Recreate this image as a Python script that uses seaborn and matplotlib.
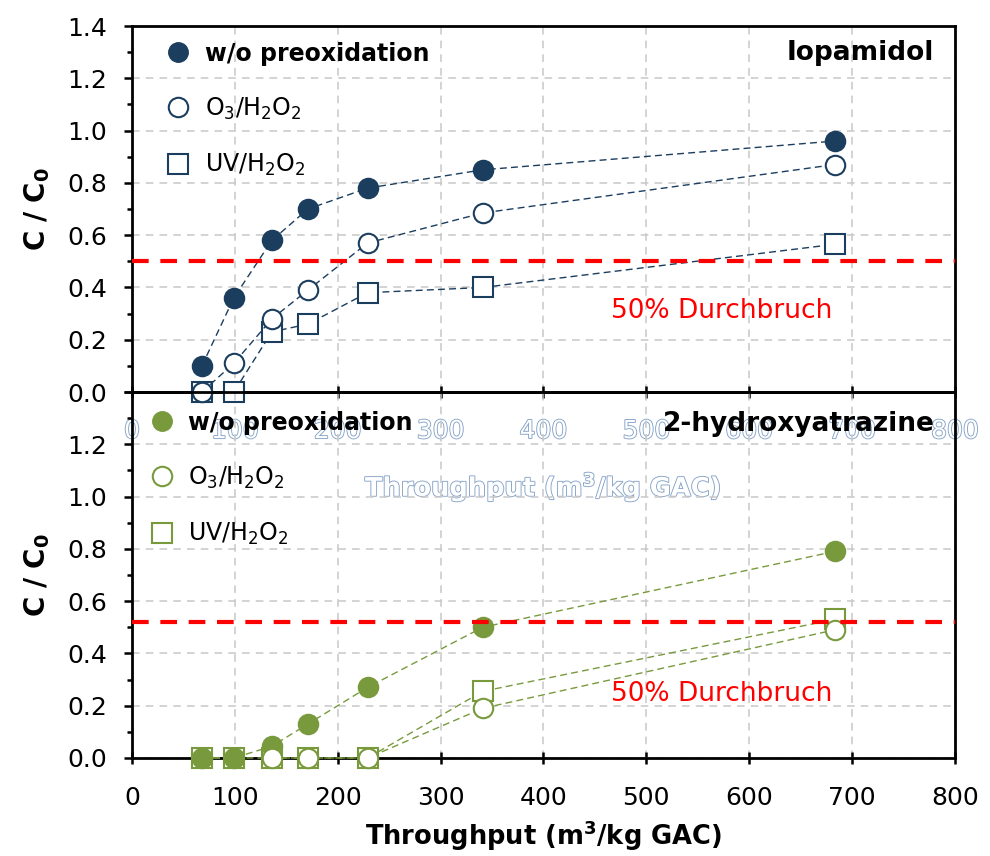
import matplotlib
matplotlib.use("Agg")
import matplotlib.pyplot as plt
import matplotlib.patheffects as pe
from matplotlib.lines import Line2D
import seaborn as sns
import numpy as np

# Daten
throughput = [68, 99, 136, 171, 229, 341, 683]
throughput_o3_hat = [136, 171, 229, 341, 683]

iop_ohne = [0.10, 0.36, 0.58, 0.70, 0.78, 0.85, 0.96]
iop_o3 = [0.00, 0.11, 0.28, 0.39, 0.57, 0.685, 0.87]
iop_uv = [0.00, 0.00, 0.23, 0.26, 0.38, 0.40, 0.565]

hat_ohne = [0.00, 0.00, 0.045, 0.13, 0.27, 0.50, 0.79]
hat_o3 = [0.00, 0.00, 0.00, 0.19, 0.49]
hat_uv = [0.00, 0.00, 0.00, 0.00, 0.00, 0.255, 0.53]

durchbruch_iop = 0.50
durchbruch_hat = 0.52

legend_labels = ["w/o preoxidation", "O$_3$/H$_2$O$_2$", "UV/H$_2$O$_2$"]
x_ticks = [0, 100, 200, 300, 400, 500, 600, 700, 800]
y_ticks = [0.0, 0.2, 0.4, 0.6, 0.8, 1.0, 1.2, 1.4]

navy = "#1b3d5e"
green = "#789a3d"

plt.rcParams["font.family"] = ["DejaVu Sans"]
plt.rcParams["axes.unicode_minus"] = False

fig = plt.figure(figsize=(9.9, 8.56), dpi=100)
ax1 = fig.add_axes([0.1333, 0.542, 0.8313, 0.4276])
ax2 = fig.add_axes([0.1333, 0.1145, 0.8313, 0.4276])
ax2.patch.set_alpha(0)


def panel(ax, series, color, title, title_y, grenze, text_y, legend_x, legend_y, legend_pad):
    for x, y, marker, face, z in series:
        sns.lineplot(x=x, y=y, ax=ax, sort=False, color=color, marker=marker,
                     markersize=14, markerfacecolor=face, markeredgecolor=color,
                     markeredgewidth=1.5, linewidth=1.0, linestyle=(0, (5, 3)),
                     clip_on=False, zorder=z)
    ax.axhline(grenze, color="red", linewidth=3, linestyle=(0, (4, 2.8)), zorder=6)
    ax.text(573, text_y, "50% Durchbruch", color="red", fontsize=19,
            ha="center", va="center")
    ax.text(780, title_y, title, fontsize=19, fontweight="bold", ha="right", va="center")

    ax.set_xlim(0, 800)
    ax.set_ylim(0, 1.4)
    ax.set_xticks(x_ticks)
    ax.set_yticks(y_ticks)
    ax.set_yticks(np.arange(0.1, 1.4, 0.2), minor=True)
    ax.grid(True, which="major", color="#c8c8c8", linestyle=(0, (5, 4)), linewidth=1.1)
    ax.set_axisbelow(True)
    for s in ax.spines.values():
        s.set_linewidth(2)
    ax.tick_params(axis="y", which="major", direction="out", length=6, width=1.8,
                   labelsize=18, pad=12)
    ax.tick_params(axis="y", which="minor", direction="out", length=3.5, width=1.8)
    ax.tick_params(axis="x", which="major", direction="inout", length=9, width=1.8,
                   labelsize=18, pad=16)
    ax.set_ylabel(r"$\mathbf{C\ /\ C_0}$", fontsize=20, labelpad=11)
    ax.set_xlabel(r"Throughput (m$^\mathbf{3}$/kg GAC)", fontsize=18.5,
                  fontweight="bold", labelpad=6)

    handles = [
        Line2D([], [], linestyle="none", marker="o", markersize=14,
               markerfacecolor=color, markeredgecolor=color),
        Line2D([], [], linestyle="none", marker="o", markersize=14,
               markerfacecolor="white", markeredgecolor=color, markeredgewidth=1.5),
        Line2D([], [], linestyle="none", marker="s", markersize=14,
               markerfacecolor="white", markeredgecolor=color, markeredgewidth=1.5),
    ]
    leg = ax.legend(handles, legend_labels, loc="upper left",
                    bbox_to_anchor=(legend_x, legend_y), frameon=False, fontsize=17,
                    handlelength=1.0, handletextpad=legend_pad, labelspacing=1.27,
                    borderpad=0, borderaxespad=0)
    leg.get_texts()[0].set_fontweight("bold")
    leg.set_zorder(7)


panel(ax1,
      [(throughput, iop_uv, "s", "white", 3),
       (throughput, iop_ohne, "o", navy, 4),
       (throughput, iop_o3, "o", "white", 5)],
      navy, "Iopamidol", 1.295, durchbruch_iop, 0.31, 0.041, 0.957, 0.65)

panel(ax2,
      [(throughput, hat_uv, "s", "white", 3),
       (throughput, hat_ohne, "o", green, 4),
       (throughput_o3_hat, hat_o3, "o", "white", 5)],
      green, "2-hydroxyatrazine", 1.277, durchbruch_hat, 0.245, 0.022, 0.949, 0.61)

# obere Achsenbeschriftung erscheint im Original hohl (weiss mit Kontur)
ax2.set_yticklabels(["0.0", "0.2", "0.4", "0.6", "0.8", "1.0", "1.2", ""])
ax1.tick_params(axis="x", labelcolor="white", pad=15)
outline = [pe.withStroke(linewidth=1.3, foreground="#86a3c8")]
for t in ax1.get_xticklabels():
    t.set_path_effects(outline)
ax1.xaxis.label.set_color("white")
ax1.xaxis.label.set_path_effects(outline)
ax1.xaxis.labelpad = 19

fig.savefig("out.png", dpi=100)
